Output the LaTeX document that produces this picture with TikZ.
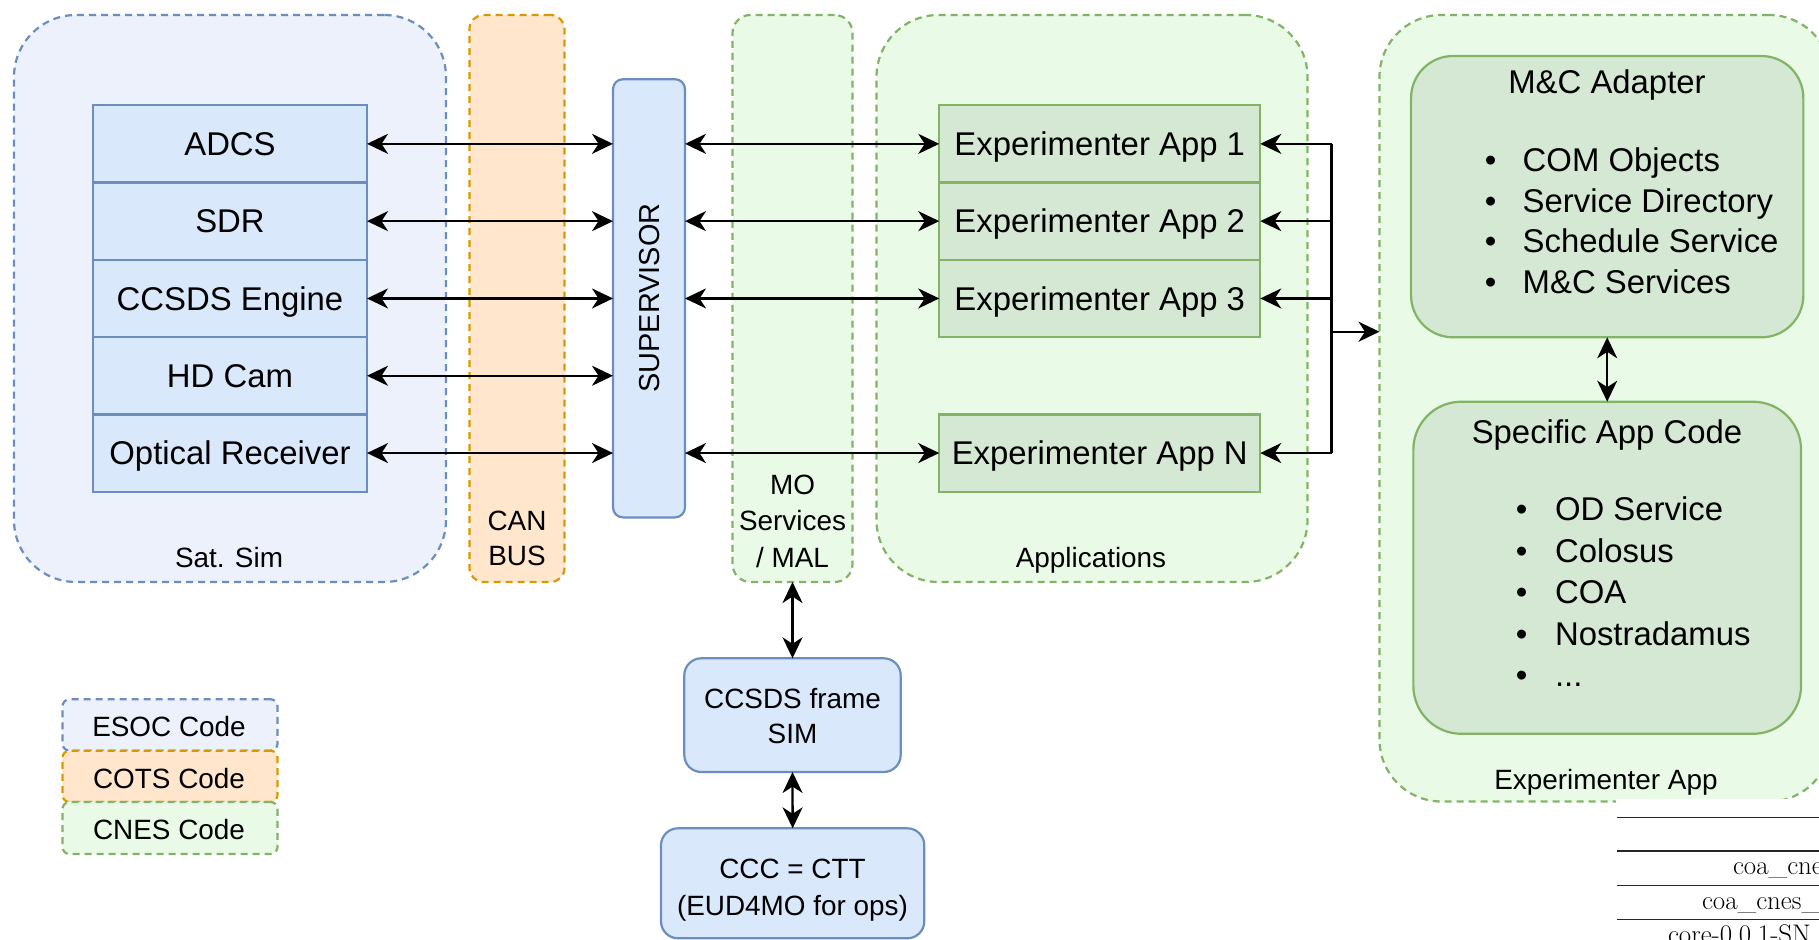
\documentclass[tikz,border=0pt]{standalone}
\usepackage{fontspec}
\newfontfamily\drawfont{Liberation Sans}
\usetikzlibrary{arrows.meta}

\definecolor{esocfill}{HTML}{ECF1FC}
\definecolor{esocline}{HTML}{6C8EBF}
\definecolor{boxblue}{HTML}{DAE8FC}
\definecolor{cotsfill}{HTML}{FFE6CC}
\definecolor{cotsline}{HTML}{D79B00}
\definecolor{cnesfill}{HTML}{E9FBE7}
\definecolor{cnesline}{HTML}{82B366}
\definecolor{boxgreen}{HTML}{D5E8D4}
\newcommand\moreitems{...}

\begin{document}
\begin{tikzpicture}[x=1bp, y=-1bp,
  every node/.style={inner sep=0pt, outer sep=0pt},
  bigtxt/.style={font=\drawfont\fontsize{33}{40}\selectfont},
  smalltxt/.style={font=\drawfont\fontsize{28}{34}\selectfont},
  captall/.style={text height=23.6bp, text depth=0pt},
  dashbox/.style={draw, line width=2.2bp, dash pattern=on 7bp off 5bp},
  esocgroup/.style={dashbox, draw=esocline, fill=esocfill},
  cotsgroup/.style={dashbox, draw=cotsline, fill=cotsfill},
  cnesgroup/.style={dashbox, draw=cnesline, fill=cnesfill},
  bluebox/.style={draw=esocline, fill=boxblue, line width=2.2bp},
  greenbox/.style={draw=cnesline, fill=boxgreen, line width=2.2bp},
  link/.style={draw=black, line width=2.3bp},
  tip/.style={-{Stealth[length=21bp, width=20bp, inset=6.5bp]}},
  biarrow/.style={link, {Stealth[length=21bp, width=20bp, inset=6.5bp]}-{Stealth[length=21bp, width=20bp, inset=6.5bp]}},
  tabtxt/.style={font=\fontsize{27}{33}\selectfont},
]
\useasboundingbox (0,0) rectangle (1819,939);
\fill[white] (0,0) rectangle (1819,939);

% ---- group containers ----
\node[esocgroup, rounded corners=62bp, minimum width=432bp, minimum height=567bp] (satsim) at (230,298.5) {};
\node[cotsgroup, rounded corners=14bp, minimum width=95bp, minimum height=567bp] (canbus) at (517,298.5) {};
\node[cnesgroup, rounded corners=18bp, minimum width=120bp, minimum height=567bp] (mo) at (792.5,298.5) {};
\node[cnesgroup, rounded corners=62bp, minimum width=431bp, minimum height=567bp] (apps) at (1092,298.5) {};
\node[cnesgroup, rounded corners=62bp, minimum width=451.5bp, minimum height=786.5bp] (expc) at (1605.25,408.25) {};

% group captions
\node[smalltxt, anchor=base] (satsimlbl) at (229,567) {Sat. Sim};
\node[smalltxt, anchor=base] (canlbl1) at (517,530.5) {CAN};
\node[smalltxt, anchor=base] (canlbl2) at (517,565) {BUS};
\node[smalltxt, anchor=base] (molbl1) at (792.5,494) {MO};
\node[smalltxt, anchor=base] (molbl2) at (792.5,530.5) {Services};
\node[smalltxt, anchor=base] (molbl3) at (792.5,567) {/ MAL};
\node[smalltxt, anchor=base] (appslbl) at (1091,567) {Applications};
\node[smalltxt, anchor=base] (expclbl) at (1606,789.3) {Experimenter App};

% ---- simulator stack ----
\node[bluebox, minimum width=274bp, minimum height=77.3bp, bigtxt, captall] (adcs) at (230,143.85) {ADCS};
\node[bluebox, minimum width=274bp, minimum height=77.3bp, bigtxt, captall] (sdr) at (230,221.15) {SDR};
\node[bluebox, minimum width=274bp, minimum height=77.3bp, bigtxt, captall] (ccsds) at (230,298.45) {CCSDS Engine};
\node[bluebox, minimum width=274bp, minimum height=77.3bp, bigtxt, captall] (hdcam) at (230,375.75) {HD Cam};
\node[bluebox, minimum width=274bp, minimum height=77.3bp, bigtxt, captall] (optrx) at (230,453.05) {Optical Receiver};

% ---- supervisor ----
\node[bluebox, rounded corners=10bp, minimum width=72bp, minimum height=438.2bp] (sup) at (649,298.3) {};
\node[font=\drawfont\fontsize{29}{35}\selectfont, text height=20.8bp, text depth=0pt, rotate=90] (suptxt) at (649,298) {SUPERVISOR};

% ---- experimenter applications ----
\node[greenbox, minimum width=321bp, minimum height=77.3bp, bigtxt, captall] (app1) at (1099.75,143.85) {Experimenter App 1};
\node[greenbox, minimum width=321bp, minimum height=77.3bp, bigtxt, captall] (app2) at (1099.75,221.15) {Experimenter App 2};
\node[greenbox, minimum width=321bp, minimum height=77.3bp, bigtxt, captall] (app3) at (1099.75,298.45) {Experimenter App 3};
\node[greenbox, minimum width=321bp, minimum height=77.3bp, bigtxt, captall] (appn) at (1099.75,453.05) {Experimenter App N};

% ---- experimenter app internals ----
\node[greenbox, rounded corners=42bp, minimum width=392.3bp, minimum height=281.3bp] (mca) at (1607.2,196.65) {};
\node[bigtxt, anchor=base] (mcatitle) at (1607,93.5) {M\&C Adapter};
\foreach \t/\y [count=\i] in {COM Objects/171.3, Service Directory/212, Schedule Service/252.8, M\&C Services/293.6}{
  \node[bigtxt, anchor=base] (mcab\i) at (1490.7,\y) {•};
  \node[bigtxt, anchor=base west] (mcai\i) at (1522.7,\y) {\t};
}
\node[greenbox, rounded corners=48bp, minimum width=387.7bp, minimum height=332.1bp] (spec) at (1607.2,567.75) {};
\node[bigtxt, anchor=base] (spectitle) at (1607,443.5) {Specific App Code};
\foreach \t/\y [count=\i] in {OD Service/520.4, Colosus/562, COA/603.5, Nostradamus/645, \moreitems/686.5}{
  \node[bigtxt, anchor=base] (specb\i) at (1521.7,\y) {•};
  \node[bigtxt, anchor=base west] (speci\i) at (1555,\y) {\t};
}

% ---- ground segment ----
\node[bluebox, rounded corners=17bp, minimum width=216.4bp, minimum height=113.7bp] (frame) at (792.5,715.15) {};
\node[smalltxt, anchor=base] (framel1) at (792.5,708.3) {CCSDS frame};
\node[smalltxt, anchor=base] (framel2) at (792.5,743.3) {SIM};
\node[bluebox, rounded corners=17bp, minimum width=263.3bp, minimum height=110bp] (ccc) at (792.65,883.3) {};
\node[smalltxt, anchor=base] (cccl1) at (792.5,878.3) {CCC = CTT};
\node[smalltxt, anchor=base] (cccl2) at (792.5,915) {(EUD4MO for ops)};

% ---- legend ----
\node[esocgroup, rounded corners=7bp, minimum width=215bp, minimum height=51.4bp] (legesoc) at (170,725) {};
\node[cotsgroup, rounded corners=7bp, minimum width=215bp, minimum height=51.3bp] (legcots) at (170,776.35) {};
\node[cnesgroup, rounded corners=7bp, minimum width=215bp, minimum height=52bp] (legcnes) at (170,828) {};
\node[smalltxt, anchor=base] (legesoct) at (169,736.7) {ESOC Code};
\node[smalltxt, anchor=base] (legcotst) at (169,788.3) {COTS Code};
\node[smalltxt, anchor=base] (legcnest) at (169,839.3) {CNES Code};

% ---- connectors ----
\foreach \n in {adcs,sdr,ccsds,hdcam,optrx}
  \draw[biarrow] (\n.east) -- (\n.east -| sup.west);
\foreach \n in {app1,app2,app3,appn}
  \draw[biarrow] (\n.west -| sup.east) -- (\n.west);

\coordinate (bus) at (1331.5,331.7);
\draw[link] (app1.east -| bus) -- (appn.east -| bus);
\foreach \n in {app1,app2,app3,appn}
  \draw[link, tip] (\n.east -| bus) -- (\n.east);
\draw[link, tip] (bus) -- (bus -| expc.west);

\draw[biarrow] (mca.south) -- (spec.north);
\draw[biarrow] (mo.south) -- (frame.north);
\draw[biarrow] (frame.south) -- (ccc.north);

% ---- versions table ----
\begin{scope}
  \clip (1590,790) rectangle (1819,939);
  \fill[white] (1616,799) rectangle (1840,950);
  \foreach \y in {817.7,851,885.7,919.3}
    \draw[line width=1.1bp, black!85] (1616.7,\y) -- (1840,\y);
  \node[tabtxt, anchor=base west] (tab1) at (1733,874) {coa\_cne};
  \node[tabtxt, anchor=base west] (tab2) at (1702,909) {coa\_cnes\_u};
  \node[tabtxt, anchor=base west] (tab3) at (1668,943.5) {core-0.0.1-SN};
\end{scope}
\end{tikzpicture}
\end{document}
